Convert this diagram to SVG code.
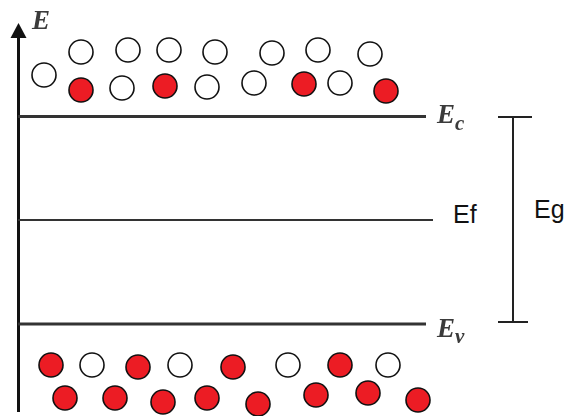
<svg xmlns="http://www.w3.org/2000/svg" width="566" height="416" viewBox="0 0 566 416">
  <style>
    .level { stroke: #333; fill: none; }
    .bar { stroke: #222; stroke-width: 2; fill: none; }
    .e { fill: #fff; stroke: #111; stroke-width: 1.6; }
    .h { fill: #ec1c24; stroke: #111; stroke-width: 1.6; }
    .sym { font-family: "Liberation Serif", serif; font-style: italic; font-weight: bold; fill: #3a3a3a; }
    .lbl { font-family: "Liberation Sans", Arial, sans-serif; fill: #111; }
  </style>
  <defs>
    <filter id="soft" x="-10%" y="-10%" width="120%" height="120%">
      <feGaussianBlur stdDeviation="0.5"/>
    </filter>
  </defs>
  <rect width="566" height="416" fill="#fff"/>

  <!-- Energy axis -->
  <g id="axis">
    <line x1="18.5" y1="34" x2="18.5" y2="412" stroke="#111" stroke-width="3"/>
    <polygon points="18.5,23 10.5,38 26.5,38" fill="#111"/>
    <text class="sym" x="32" y="29" font-size="27" filter="url(#soft)">E</text>
  </g>

  <!-- Band edges and Fermi level -->
  <g id="levels">
    <line class="level" x1="18" y1="116.5" x2="426" y2="116.5" stroke-width="3"/>
    <line class="level" x1="18" y1="220" x2="433" y2="220" stroke-width="2"/>
    <line class="level" x1="18" y1="324" x2="426" y2="324" stroke-width="3"/>
  </g>

  <g id="label-ec" filter="url(#soft)">
    <text class="sym" x="437" y="123" font-size="27">E<tspan font-size="21" dy="7">c</tspan></text>
  </g>
  <g id="label-ev" filter="url(#soft)">
    <text class="sym" x="437" y="337" font-size="27">E<tspan font-size="21" dy="6">v</tspan></text>
  </g>
  <g id="label-ef">
    <text class="lbl" x="453" y="223" font-size="25">Ef</text>
  </g>

  <!-- Band gap bracket -->
  <g id="gap">
    <line class="bar" x1="513" y1="117" x2="513" y2="322"/>
    <line class="bar" x1="498" y1="117" x2="532" y2="117"/>
    <line class="bar" x1="498" y1="322" x2="528" y2="322"/>
    <text class="lbl" x="534" y="218" font-size="25">Eg</text>
  </g>

  <!-- Conduction band carriers -->
  <g id="conduction">
    <circle class="e" cx="81" cy="52" r="12"/>
    <circle class="e" cx="128" cy="50" r="12"/>
    <circle class="e" cx="169" cy="50" r="12"/>
    <circle class="e" cx="215" cy="52" r="12"/>
    <circle class="e" cx="272" cy="53" r="12"/>
    <circle class="e" cx="318" cy="50" r="12"/>
    <circle class="e" cx="370" cy="54" r="12"/>
    <circle class="e" cx="44" cy="75" r="12"/>
    <circle class="h" cx="81" cy="90" r="12"/>
    <circle class="e" cx="122" cy="88" r="12"/>
    <circle class="h" cx="165" cy="86" r="12"/>
    <circle class="e" cx="207" cy="87" r="12"/>
    <circle class="e" cx="254" cy="83" r="12"/>
    <circle class="h" cx="304" cy="84" r="12"/>
    <circle class="e" cx="340" cy="83" r="12"/>
    <circle class="h" cx="386" cy="91" r="12"/>
  </g>

  <!-- Valence band carriers -->
  <g id="valence">
    <circle class="h" cx="51" cy="365" r="12"/>
    <circle class="e" cx="92" cy="365" r="12"/>
    <circle class="h" cx="138" cy="367" r="12"/>
    <circle class="e" cx="180" cy="365" r="12"/>
    <circle class="h" cx="233" cy="367" r="12"/>
    <circle class="e" cx="288" cy="365" r="12"/>
    <circle class="h" cx="340" cy="365" r="12"/>
    <circle class="e" cx="388" cy="365" r="12"/>
    <circle class="h" cx="65" cy="398" r="12"/>
    <circle class="h" cx="115" cy="398" r="12"/>
    <circle class="h" cx="163" cy="402" r="12"/>
    <circle class="h" cx="207" cy="398" r="12"/>
    <circle class="h" cx="258" cy="404" r="12"/>
    <circle class="h" cx="316" cy="395" r="12"/>
    <circle class="h" cx="368" cy="393" r="12"/>
    <circle class="h" cx="418" cy="400" r="12"/>
  </g>
</svg>
